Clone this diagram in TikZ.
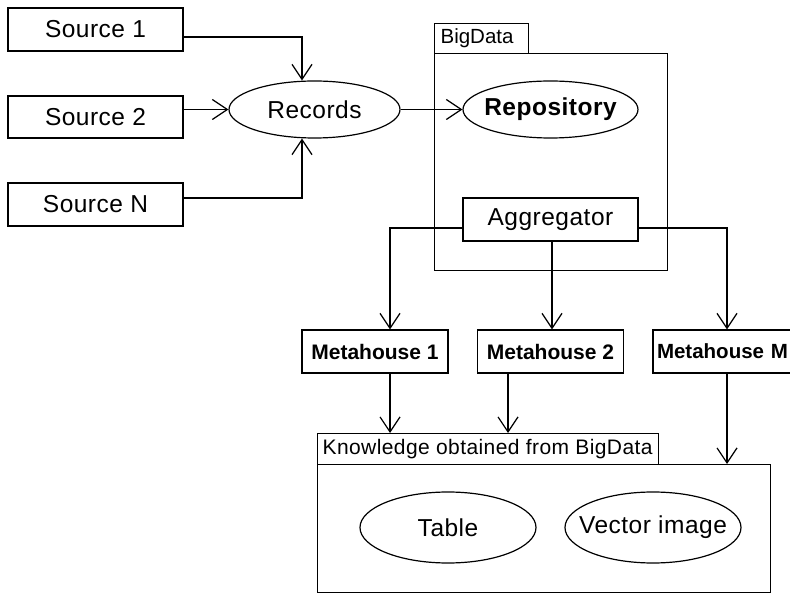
\documentclass[tikz,border=0pt]{standalone}
\usepackage{fontspec}
\setmainfont{Liberation Sans}
\newfontfamily\spaced{Liberation Sans}[LetterSpace=2]
\usetikzlibrary{shapes.geometric,arrows.meta}
\newcommand{\zw}[1]{\makebox[0pt]{#1}}
\begin{document}
\begin{tikzpicture}[x=1pt,y=-1pt,line width=1.2pt,
  >={Straight Barb[length=15pt,width=20pt,line width=1.2pt]},
  bigtext/.style={font=\spaced\fontsize{24.5}{28}\selectfont},
  box/.style={draw,rectangle,inner sep=0pt,bigtext},
  ell/.style={draw,ellipse,inner sep=0pt,bigtext},
  meta/.style={draw,rectangle,inner sep=0pt,minimum width=146pt,minimum height=43pt,font=\bfseries\fontsize{21}{25}\selectfont},
  frame/.style={draw,rectangle,inner sep=0pt,anchor=north west},
  tablabel/.style={anchor=west,inner sep=0pt,font=\fontsize{20.5}{24}\selectfont}]
\useasboundingbox (0,0) rectangle (790,593);
\fill[white] (0,0) rectangle (790,593);
% sources
\node[box,minimum width=175pt,minimum height=43pt] (s1) at (95.5,29.5) {Source 1};
\node[box,minimum width=175pt,minimum height=42pt] (s2) at (95.5,117) {Source 2};
\node[box,minimum width=175pt,minimum height=43pt] (sN) at (95.5,204.5) {Source N};
\node[ell,minimum width=171pt,minimum height=57pt] (rec) at (314.5,109.5) {\zw{Records}};
% BigData package
\node[frame,minimum width=94pt,minimum height=30pt] (bdtab) at (434,23) {};
\node[frame,minimum width=233pt,minimum height=217pt] (bdbox) at (434,53) {};
\node[tablabel] (bdlabel) at (440,38.5) {BigData};
\node[ell,minimum width=175pt,minimum height=57pt,font=\spaced\bfseries\fontsize{24.5}{28}\selectfont] (repo) at (550.5,109.5) {\zw{Repository}};
\node[box,minimum width=175pt,minimum height=43pt] (agg) at (550.5,219.5) {Aggregator};
% metahouses
\node[meta] (m1) at (375,351.5) {Metahouse 1};
\node[meta] (m2) at (550.5,351.5) {Metahouse 2};
\node[meta,text width=146pt,align=left,font=\bfseries\fontsize{20.5}{25}\selectfont] (mM) at (726,351.5) {\hspace*{4pt}Metahouse M};
% knowledge package
\node[frame,minimum width=341pt,minimum height=31pt] (ktab) at (317,433) {};
\node[frame,minimum width=453pt,minimum height=128pt] (kbox) at (317,464) {};
\node[tablabel,font=\spaced\fontsize{21}{25}\selectfont] (klabel) at (322,449) {Knowledge obtained from BigData};
\node[ell,minimum width=176pt,minimum height=71pt] (tab) at (448,527.5) {\zw{Table}};
\node[ell,minimum width=176pt,minimum height=71pt] (vec) at (653,527.5) {\zw{Vector image}};
% connectors
\draw[->] ([yshift=-7.5pt]s1.east) -| ([xshift=-12.5pt]rec.north);
\draw[->] (s2.east |- rec.west) -- (rec.west);
\draw[->] ([yshift=6.5pt]sN.east) -| ([xshift=-12.5pt]rec.south);
\draw[->] (rec.east) -- (repo.west);
\draw[->] ([yshift=-8.5pt]agg.west) -| ([xshift=15pt]m1.north);
\draw[->] ([xshift=1.5pt]agg.south) -- ([xshift=1.5pt]m2.north);
\draw[->] ([yshift=-8.5pt]agg.east) -| ([xshift=1pt]mM.north);
\draw[->] ([xshift=15pt]m1.south) -- ([xshift=15pt]m1.south |- ktab.north);
\draw[->] ([xshift=-42.5pt]m2.south) -- ([xshift=-42.5pt]m2.south |- ktab.north);
\draw[->] ([xshift=1pt]mM.south) -- ([xshift=1pt]mM.south |- kbox.north);
\end{tikzpicture}
\end{document}
